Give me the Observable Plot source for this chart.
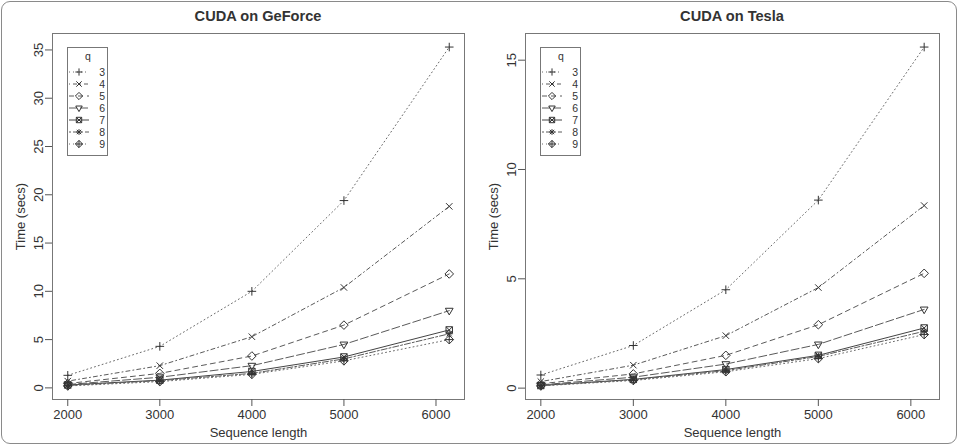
<!DOCTYPE html>
<html><head><meta charset="utf-8">
<script src="https://cdn.jsdelivr.net/npm/d3@7"></script>
<script src="https://cdn.jsdelivr.net/npm/@observablehq/plot@0.6"></script>
<style>
body{margin:0;background:#fff;font-family:"Liberation Sans",Arial,sans-serif;}
#wrap{position:relative;width:962px;height:446px;overflow:hidden;background:#fff}
#frame{position:absolute;left:1px;top:1px;width:954px;height:441px;border:1.5px solid #8a8a8a;border-radius:9px;}
.panel{position:absolute;top:0;width:481px;height:446px}
.title{position:absolute;top:8px;font-weight:bold;font-size:14.6px;color:#333;transform:translateX(-50%);white-space:nowrap;line-height:17px}
.legend{position:absolute;top:47px}
</style></head><body>
<div id="wrap"><div id="frame"></div><div class="panel" id="p0" style="left:0"></div><div class="panel" id="p1" style="left:481px"></div></div>
<script>
// ---- data ----
const lengths = [2000, 3000, 4000, 5000, 6144];
const qValues = [3, 4, 5, 6, 7, 8, 9];
const xTicks = [2000, 3000, 4000, 5000, 6000];
const geforceTicksY = [0, 5, 10, 15, 20, 25, 30, 35];
const teslaTicksY = [0, 5, 10, 15];
const titles = ["CUDA on GeForce", "CUDA on Tesla"];

// GeForce times (secs) per q
const geforceQ3 = [1.3, 4.3, 10.0, 19.4, 35.3];
const geforceQ4 = [0.7, 2.3, 5.3, 10.4, 18.8];
const geforceQ5 = [0.45, 1.5, 3.3, 6.5, 11.8];
const geforceQ6 = [0.35, 1.1, 2.3, 4.5, 8.0];
const geforceQ7 = [0.3, 0.8, 1.7, 3.2, 6.0];
const geforceQ8 = [0.25, 0.75, 1.5, 3.0, 5.6];
const geforceQ9 = [0.2, 0.65, 1.4, 2.8, 5.0];
// Tesla times (secs) per q
const teslaQ3 = [0.6, 1.95, 4.5, 8.6, 15.6];
const teslaQ4 = [0.3, 1.05, 2.4, 4.6, 8.35];
const teslaQ5 = [0.2, 0.65, 1.5, 2.9, 5.25];
const teslaQ6 = [0.15, 0.5, 1.1, 2.0, 3.6];
const teslaQ7 = [0.12, 0.4, 0.85, 1.5, 2.75];
const teslaQ8 = [0.12, 0.38, 0.8, 1.45, 2.6];
const teslaQ9 = [0.1, 0.35, 0.75, 1.35, 2.45];

const geforceSeries = [geforceQ3, geforceQ4, geforceQ5, geforceQ6, geforceQ7, geforceQ8, geforceQ9];
const teslaSeries = [teslaQ3, teslaQ4, teslaQ5, teslaQ6, teslaQ7, teslaQ8, teslaQ9];

// ---- styles ----
const dashes = {3: "1,3", 4: "1,3,4,3", 5: "5,4", 6: "8,3", 7: null, 8: "2,2,6,2", 9: "1,3"};
const lineColor = {3: "#6a6a6a", 4: "#5a5a5a", 5: "#5a5a5a", 6: "#5a5a5a", 7: "#444", 8: "#5a5a5a", 9: "#6a6a6a"};
const mk = f => ({draw(ctx, size){ const r = Math.sqrt(size / Math.PI); f(ctx, r); }});
const symbols = {
  3: mk((c, r) => { c.moveTo(-r, 0); c.lineTo(r, 0); c.moveTo(0, -r); c.lineTo(0, r); }),
  4: mk((c, r) => { const a = r * 0.75; c.moveTo(-a, -a); c.lineTo(a, a); c.moveTo(-a, a); c.lineTo(a, -a); }),
  5: mk((c, r) => { c.moveTo(0, -r); c.lineTo(r, 0); c.lineTo(0, r); c.lineTo(-r, 0); c.closePath(); }),
  6: mk((c, r) => { c.moveTo(-r * 0.9, -r * 0.55); c.lineTo(r * 0.9, -r * 0.55); c.lineTo(0, r); c.closePath(); }),
  7: mk((c, r) => { const a = r * 0.75; c.rect(-a, -a, 2 * a, 2 * a); c.moveTo(-a, -a); c.lineTo(a, a); c.moveTo(-a, a); c.lineTo(a, -a); }),
  8: mk((c, r) => { const a = r * 0.8, b = r * 0.6; c.moveTo(-a, 0); c.lineTo(a, 0); c.moveTo(0, -a); c.lineTo(0, a); c.moveTo(-b, -b); c.lineTo(b, b); c.moveTo(-b, b); c.lineTo(b, -b); }),
  9: mk((c, r) => { c.moveTo(0, -r); c.lineTo(r, 0); c.lineTo(0, r); c.lineTo(-r, 0); c.closePath(); c.moveTo(-r, 0); c.lineTo(r, 0); c.moveTo(0, -r); c.lineTo(0, r); })
};

const font = '"Liberation Sans", Arial, sans-serif';

function buildRows(series) {
  const rows = [];
  series.forEach((vals, i) => vals.forEach((t, j) => rows.push({q: qValues[i], len: lengths[j], t})));
  return rows;
}

function panel(el, series, yTicks, title, marginLeft, marginRight) {
  const rows = buildRows(series);
  const ye = d3.extent(rows, d => d.t), yp = (ye[1] - ye[0]) * 0.04;
  const xe = d3.extent(lengths), xp = (xe[1] - xe[0]) * 0.04;
  const chart = Plot.plot({
    width: 481, height: 446,
    marginTop: 33, marginBottom: 47, marginLeft, marginRight,
    style: {fontFamily: font, fontSize: "13px", color: "#333", background: "transparent", overflow: "visible"},
    x: {domain: [xe[0] - xp, xe[1] + xp]},
    y: {domain: [ye[0] - yp, ye[1] + yp]},
    marks: [
      Plot.frame({stroke: "#777"}),
      Plot.axisX({ticks: xTicks, tickSize: 7, tickPadding: 3, tickFormat: d => String(d), stroke: "#555",
        label: "Sequence length", labelAnchor: "center", labelOffset: 37, labelArrow: "none"}),
      Plot.axisY({ticks: yTicks, tickSize: 7, tickPadding: 3, tickRotate: -90, tickFormat: d => String(d), stroke: "#555",
        label: "Time (secs)", labelAnchor: "center", labelOffset: 37, labelArrow: "none"}),
      ...qValues.map(q => Plot.line(rows.filter(d => d.q === q), {x: "len", y: "t", stroke: lineColor[q], strokeWidth: 1, strokeDasharray: dashes[q]})),
      ...qValues.map(q => Plot.dot(rows.filter(d => d.q === q), {x: "len", y: "t", symbol: symbols[q], r: 4.3, stroke: "#333", fill: "none", strokeWidth: 1}))
    ]
  });
  el.appendChild(chart);

  const t = document.createElement("div");
  t.className = "title";
  t.textContent = title;
  t.style.left = ((marginLeft + 481 - marginRight) / 2) + "px";
  el.appendChild(t);

  // legend
  const lw = 41, lh = 109;
  const leg = d3.select(el).append("svg").attr("class", "legend")
    .attr("width", lw).attr("height", lh)
    .style("left", (marginLeft + 15) + "px")
    .attr("font-family", font).attr("font-size", 10.5);
  leg.append("rect").attr("x", 0.5).attr("y", 0.5).attr("width", lw - 1).attr("height", lh - 1)
    .attr("fill", "#fff").attr("stroke", "#777");
  leg.append("text").attr("x", 21).attr("y", 13).attr("text-anchor", "middle").attr("fill", "#333").text("q");
  qValues.forEach((q, i) => {
    const yy = 25 + i * 12;
    leg.append("line").attr("x1", 2).attr("x2", 22).attr("y1", yy).attr("y2", yy)
      .attr("stroke", lineColor[q]).attr("stroke-dasharray", dashes[q]);
    const path = d3.path();
    const r = 3.6;
    symbols[q].draw(path, r * r * Math.PI);
    leg.append("path").attr("d", path.toString()).attr("transform", `translate(12,${yy})`)
      .attr("fill", "none").attr("stroke", "#333");
    leg.append("text").attr("x", 38).attr("y", yy + 4).attr("text-anchor", "end").attr("fill", "#333").text(q);
  });
}

panel(document.getElementById("p0"), geforceSeries, geforceTicksY, titles[0], 52, 17);
panel(document.getElementById("p1"), teslaSeries, teslaTicksY, titles[1], 44, 23);
</script>
</body></html>
